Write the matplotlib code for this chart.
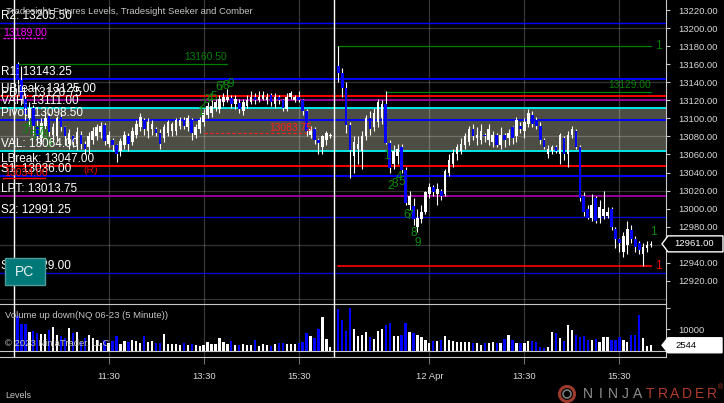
import matplotlib
matplotlib.use("Agg")
import matplotlib.pyplot as plt
import matplotlib.transforms as mtransforms
from matplotlib.patches import Rectangle, Polygon, Circle
import numpy as np

plt.rcParams["font.family"] = ["Liberation Sans", "DejaVu Sans"]

# ---------------- data: NQ 06-23, 5 minute bars, 9:35 .. 16:10 ----------------
day1_open = [13160, 13142, 13122, 13100, 13112, 13092, 13078, 13092, 13103, 13082,
             13080, 13102, 13090, 13072, 13080, 13072, 13082, 13072, 13068, 13076,
             13080, 13085, 13093, 13072, 13076, 13070, 13064, 13070, 13080, 13074,
             13082, 13090, 13098, 13086, 13088, 13088, 13084, 13078, 13084, 13086,
             13086, 13092, 13098, 13090, 13098, 13082, 13088, 13096, 13104, 13106,
             13112, 13110, 13118, 13120, 13123, 13116, 13117, 13108, 13114, 13118,
             13124, 13120, 13122, 13120, 13126, 13116, 13124, 13120, 13110, 13124,
             13120, 13124, 13120, 13108, 13082, 13088, 13076, 13068, 13076, 13080]
day1_close = [13142, 13122, 13105, 13112, 13092, 13080, 13095, 13100, 13085, 13090,
              13100, 13090, 13080, 13084, 13074, 13085, 13072, 13066, 13080, 13086,
              13090, 13092, 13075, 13082, 13070, 13060, 13075, 13082, 13072, 13086,
              13094, 13102, 13088, 13096, 13094, 13084, 13072, 13090, 13096, 13094,
              13098, 13098, 13092, 13100, 13084, 13090, 13098, 13106, 13114, 13114,
              13118, 13122, 13124, 13124, 13116, 13122, 13110, 13118, 13120, 13124,
              13120, 13124, 13126, 13124, 13118, 13124, 13120, 13112, 13124, 13128,
              13124, 13120, 13108, 13086, 13088, 13076, 13073, 13080, 13084, 13082]
day1_high = [13162, 13158, 13128, 13118, 13115, 13098, 13100, 13108, 13106, 13095,
             13103, 13106, 13092, 13088, 13082, 13090, 13086, 13075, 13085, 13090,
             13094, 13096, 13095, 13086, 13078, 13072, 13078, 13086, 13084, 13090,
             13098, 13106, 13100, 13100, 13098, 13090, 13088, 13094, 13098, 13096,
             13100, 13102, 13102, 13104, 13100, 13094, 13102, 13110, 13118, 13120,
             13122, 13126, 13128, 13132, 13126, 13126, 13122, 13122, 13126, 13130,
             13128, 13130, 13130, 13128, 13128, 13128, 13126, 13122, 13128, 13130,
             13126, 13130, 13122, 13110, 13092, 13090, 13078, 13082, 13086, 13084]
day1_low = [13138, 13115, 13098, 13092, 13082, 13072, 13072, 13088, 13080, 13074,
            13075, 13086, 13070, 13066, 13068, 13065, 13066, 13060, 13062, 13072,
            13076, 13078, 13070, 13068, 13064, 13052, 13058, 13066, 13064, 13070,
            13078, 13086, 13082, 13078, 13082, 13080, 13066, 13074, 13080, 13080,
            13082, 13088, 13088, 13086, 13076, 13078, 13084, 13092, 13100, 13102,
            13108, 13106, 13114, 13118, 13112, 13110, 13106, 13104, 13112, 13116,
            13116, 13118, 13120, 13116, 13114, 13112, 13116, 13108, 13108, 13122,
            13118, 13118, 13104, 13080, 13078, 13072, 13060, 13060, 13070, 13078]
day1_volume = [16200, 12500, 12500, 8900, 9300, 8100, 7600, 7600, 9700, 10900,
               7300, 6900, 5800, 10400, 8100, 8600, 4200, 5800, 7300, 5800,
               5000, 3700, 5000, 3400, 4700, 6900, 3100, 4700, 4200, 5000,
               4700, 3700, 6900, 4200, 4700, 3700, 3400, 7800, 3100, 3100,
               3100, 2600, 3700, 2600, 3100, 2600, 2300, 2600, 3900, 3100,
               3100, 5800, 3900, 3100, 4700, 2600, 2600, 3100, 2600, 2600,
               5000, 2300, 3100, 2600, 2300, 3100, 3400, 3400, 3100, 3100,
               3100, 3400, 3900, 8100, 7000, 5800, 10000, 15900, 5300, 1900]

day2_open = [13158, 13150, 13134, 13093, 13058, 13066, 13064, 13080, 13100, 13090,
             13096, 13100, 13116, 13073, 13050, 13058, 13068, 13043, 13004, 13003,
             12980, 12988, 12996, 13016, 13024, 13016, 13020, 13016, 13040, 13050,
             13060, 13064, 13070, 13074, 13088, 13078, 13076, 13082, 13076, 13074,
             13082, 13070, 13082, 13078, 13090, 13080, 13092, 13086, 13094, 13104,
             13098, 13092, 13076, 13060, 13064, 13068, 13060, 13078, 13060, 13082,
             13086, 13068, 13014, 13000, 12990, 13012, 12990, 12992, 12992, 13000,
             12978, 12966, 12952, 12960, 12976, 12966, 12962, 12950, 12956, 12960]
day2_close = [13150, 13134, 13093, 13065, 13074, 13072, 13080, 13100, 13088, 13106,
              13118, 13116, 13073, 13045, 13064, 13066, 13043, 13006, 13014, 12988,
              12990, 12996, 13018, 13024, 13018, 13022, 13014, 13042, 13054, 13062,
              13068, 13072, 13080, 13088, 13080, 13082, 13086, 13080, 13088, 13082,
              13070, 13082, 13076, 13084, 13078, 13098, 13088, 13096, 13106, 13094,
              13092, 13076, 13068, 13066, 13068, 13064, 13082, 13060, 13082, 13088,
              13068, 13012, 12996, 12990, 13004, 12986, 13002, 13000, 12996, 12980,
              12966, 12962, 12970, 12978, 12966, 12958, 12954, 12958, 12960, 12961]
day2_high = [13180, 13156, 13140, 13096, 13080, 13080, 13086, 13104, 13108, 13112,
             13122, 13120, 13130, 13076, 13070, 13072, 13072, 13046, 13020, 13012,
             13000, 13004, 13020, 13028, 13026, 13028, 13022, 13044, 13060, 13066,
             13072, 13078, 13084, 13092, 13094, 13090, 13094, 13084, 13094, 13086,
             13084, 13090, 13084, 13088, 13092, 13102, 13096, 13100, 13110, 13108,
             13102, 13096, 13078, 13070, 13070, 13070, 13084, 13080, 13086, 13092,
             13088, 13070, 13018, 13004, 13016, 13014, 13010, 13020, 13002, 13002,
             12980, 12968, 12974, 12986, 12982, 12970, 12964, 12962, 12964, 12964]
day2_low = [13140, 13124, 13084, 13034, 13040, 13050, 13044, 13076, 13082, 13086,
            13090, 13094, 13072, 13040, 13044, 13050, 13040, 13004, 12998, 12982,
            12974, 12984, 12994, 13012, 13014, 13004, 13010, 13014, 13036, 13046,
            13054, 13060, 13066, 13070, 13076, 13070, 13072, 13074, 13070, 13068,
            13068, 13066, 13068, 13070, 13072, 13074, 13084, 13078, 13090, 13090,
            13088, 13072, 13066, 13056, 13060, 13062, 13050, 13054, 13046, 13078,
            13066, 13008, 12992, 12988, 12986, 12984, 12984, 12988, 12990, 12976,
            12956, 12952, 12946, 12950, 12962, 12952, 12950, 12936, 12952, 12958]
day2_volume = [19500, 14300, 9000, 19800, 10000, 6800, 7500, 8900, 6500, 5500,
               9300, 10000, 12100, 12800, 6800, 6800, 7500, 12800, 8900, 8400,
               7300, 6500, 5000, 3700, 4700, 4700, 5000, 6800, 5000, 4700,
               4200, 4200, 4200, 4200, 3700, 3700, 2600, 3700, 3700, 4200,
               3400, 3400, 5300, 7300, 5000, 3400, 3400, 3400, 4700, 4700,
               4200, 1600, 1100, 1800, 8900, 8100, 6100, 4500, 12000, 9700,
               7500, 6500, 6800, 5000, 5000, 5300, 4200, 6500, 6500, 5000,
               5000, 6200, 5000, 4200, 7300, 7300, 16700, 5800, 2200, 2544]

# Tradesight Futures Levels
level_names = ["R2", "R1", "UBreak", "PDH", "VAH", "Pivot", "VAL", "LBreak", "S1", "LPT", "S2", "S3"]
level_values = [13205.50, 13143.25, 13125.00, 13120.75, 13111.00, 13098.50,
                13064.00, 13047.00, 13036.00, 13013.75, 12991.25, 12929.00]

# Seeker counts (text, bar index, price)
seeker_text = ["3", "4", "5", "6", "7", "8", "9",
               "1", "2", "3", "4", "5", "6", "7", "8", "9",
               "1", "2", "3", "4", "5", "6", "7", "8", "9", "1"]
seeker_bar = [1.9, 2.9, 3.9, 4.9, 5.9, 6.9, 8.0,
              46.3, 46.8, 47.9, 48.6, 49.6, 50.9, 51.6, 52.7, 53.9,
              93.2, 94.2, 95.3, 96.3, 97.1, 98.3, 99.1, 100.1, 101.1, 160.5]
seeker_price = [13087, 13093, 13080, 13085, 13085, 13082, 13072,
                13107, 13115, 13120, 13121, 13124, 13135, 13135, 13136, 13138,
                13058, 13025, 13027, 13035, 13030, 12993, 12992, 12973, 12962, 12974]

# target lines (price, first bar, last bar, label)
target_price = [13160.50, 13180.00, 13129.00, 12936.50, 13083.75]
target_start = [0, 81, 93, 81, 47]
target_end = [53, 160, 160, 160, 74]
target_label = ["13160.50", "1", "13129.00", "1", "13083.75"]

time_labels = ["11:30", "13:30", "15:30", "12 Apr", "13:30", "15:30"]

# ---------------- layout ----------------
W, H, DPI = 724, 403, 100
BAR0_PX, BAR_PX = 17.5, 3.96
PANEL_RIGHT = 666


def px_box(left, top, right, bottom):
    return [left / W, 1 - bottom / H, (right - left) / W, (bottom - top) / H]


def fig_text(px, py, s, **kw):
    return fig.text(px / W, 1 - py / H, s, **kw)


fig = plt.figure(figsize=(W / DPI, H / DPI), dpi=DPI, facecolor="black")
ax = fig.add_axes(px_box(0, 0, PANEL_RIGHT, 304))
axv = fig.add_axes(px_box(0, 304, PANEL_RIGHT, 357), sharex=ax)

xlim = ((0 - BAR0_PX) / BAR_PX, (PANEL_RIGHT - BAR0_PX) / BAR_PX)
ax.set_xlim(*xlim)
ax.set_ylim(12894.4, 13231.1)
axv.set_ylim(-2944, 21822)

for a in (ax, axv):
    a.set_facecolor("black")
    for s in a.spines.values():
        s.set_visible(False)
    a.spines["right"].set_visible(True)
    a.spines["right"].set_color("#c8c8c8")
    a.spines["right"].set_linewidth(0.8)
axv.spines["top"].set_visible(True)
axv.spines["top"].set_color("#c8c8c8")
axv.spines["bottom"].set_visible(True)
axv.spines["bottom"].set_color("#c8c8c8")

o = np.array(day1_open + day2_open, float)
c = np.array(day1_close + day2_close, float)
hi = np.array(day1_high + day2_high, float)
lo = np.array(day1_low + day2_low, float)
vol = np.array(day1_volume + day2_volume, float)
n1 = len(day1_open)
idx = np.concatenate([np.arange(n1), n1 + 1 + np.arange(len(day2_open))])

# bar times for the time axis
minutes = np.concatenate([9 * 60 + 35 + 5 * np.arange(n1), 9 * 60 + 35 + 5 * np.arange(len(day2_open))])
tick_idx = idx[np.isin(minutes, [11 * 60 + 30, 13 * 60 + 30, 15 * 60 + 30])]

# value area band and grid
ax.axhspan(level_values[6], level_values[4], color="#4e4d44", lw=0, zorder=1)
for p in np.arange(12900, 13201, 60):
    ax.axhline(p, color="white", alpha=0.2, lw=0.9, zorder=2)
for t in tick_idx:
    ax.axvline(t, color="white", alpha=0.22, lw=0.9, zorder=2)
    axv.axvline(t, color="white", alpha=0.22, lw=0.9, zorder=1)
for s in (idx[0] - 1, idx[n1] - 1):
    ax.axvline(s, color="white", lw=1.0, zorder=6)
    axv.axvline(s, color="white", lw=1.0, zorder=6)

# level lines
level_colors = {"R2": "#0000ff", "R1": "#0000ff", "UBreak": "#ff0000", "PDH": "#990099",
                "VAH": "#00e8e8", "Pivot": "#0000ff", "VAL": "#00e8e8", "LBreak": "#ff0000",
                "S1": "#0000ff", "LPT": "#990099", "S2": "#0000d0", "S3": "#0000d0"}
label_tr = mtransforms.offset_copy(
    mtransforms.blended_transform_factory(ax.transAxes, ax.transData), y=7, units="dots")
for name, val in zip(level_names, level_values):
    lw = 1.0 if name in ("S2", "S3", "R2") else 1.4
    ax.axhline(val, color=level_colors[name], lw=lw, zorder=3)
    ax.text(0.002, val, f"{name}: {val:.2f}", transform=label_tr, color="white",
            fontsize=8.5, va="center", ha="left", zorder=12)

# target lines from Seeker / Comber
for p, s, e, lab in zip(target_price, target_start, target_end, target_label):
    if lab == "13083.75":
        ax.plot([s, e], [p, p], color="#ff2020", lw=0.8, ls=(0, (3, 2)), zorder=3)
        ax.text(e + 0.3, p, lab, color="#ff2020", fontsize=7.4, ha="right", va="bottom", zorder=9,
                transform=mtransforms.offset_copy(ax.transData, y=0.5, units="dots"))
    elif lab == "1":
        col = "#ff0000" if p < 13000 else "#008000"
        ax.plot([s, e], [p, p], color=col, lw=1.2 if col == "#ff0000" else 0.9, zorder=3)
        ax.text(e + 0.9, p, lab, color=col, fontsize=8.5, ha="left", va="center", zorder=9)
    else:
        ax.plot([s, e], [p, p], color="#008000", lw=0.9, zorder=3)
        ax.text(e, p, lab, color="#008000", fontsize=7.4, ha="right", va="bottom", zorder=9,
                transform=mtransforms.offset_copy(ax.transData, y=2, units="dots"))

# price-only marks at the left
tr_left = mtransforms.blended_transform_factory(ax.transAxes, ax.transData)
ax.text(0.005, 13189.0, "13189.00", transform=mtransforms.offset_copy(tr_left, y=5, units="dots"),
        color="#ff00ff", fontsize=7.6, va="center", zorder=12)
ax.plot([0.004, 0.068], [13189.0, 13189.0], transform=tr_left, color="#ff00ff", lw=0.9, ls=(0, (2, 1)), zorder=12)
ax.text(0.007, 13034.0, "13034.00", transform=mtransforms.offset_copy(tr_left, y=5, units="dots"),
        color="#ff1010", fontsize=7.6, va="center", zorder=12)
ax.plot([0.004, 0.068], [13034.0, 13034.0], transform=tr_left, color="#ff1010", lw=1.0, zorder=12)
ax.text(0.125, 13036.0, "(R)", transform=mtransforms.offset_copy(tr_left, y=6, units="dots"),
        color="#e00000", fontsize=7.6, va="center", zorder=12)

# candles
up = c >= o
ax.vlines(idx, lo, hi, color="white", lw=0.8, zorder=4)
ax.bar(idx, np.maximum(np.abs(c - o), 0.9), bottom=np.minimum(o, c), width=0.66,
       color=np.where(up, "white", "#0000ff"), lw=0, zorder=5)

# seeker counts
for t, b, p in zip(seeker_text, seeker_bar, seeker_price):
    ax.text(b, p, t, color="#0a8a0a", fontsize=8.5, ha="center", va="center", zorder=7)

# volume
axv.bar(idx, vol, width=0.58, color=np.where(up, "white", "#0000ff"), lw=0, zorder=3)
axv.axhline(0, color="#c8c8c8", lw=0.8, zorder=4)

# axes ticks
ax.yaxis.tick_right()
ax.set_yticks(np.arange(12920, 13221, 20))
ax.set_yticklabels([f"{v:.2f}" for v in np.arange(12920, 13221, 20)])
ax.tick_params(axis="y", length=3, width=0.8, color="#c8c8c8", labelcolor="#d8d8d8", labelsize=6.8, pad=6)
ax.tick_params(axis="x", bottom=False, labelbottom=False)
axv.yaxis.tick_right()
axv.set_yticks([0, 10000, 20000])
axv.set_yticklabels(["", "10000", ""])
axv.tick_params(axis="y", length=3, width=0.8, color="#c8c8c8", labelcolor="#d8d8d8", labelsize=6.8, pad=6)
axv.set_xticks(tick_idx)
axv.set_xticklabels(time_labels)
axv.tick_params(axis="x", length=5, width=0.8, color="#707070", labelcolor="#d8d8d8", labelsize=6.8, pad=5.5)

# texts
fig_text(6, 11, "Tradesight Futures Levels, Tradesight Seeker and Comber", color="#c4c4c4",
         fontsize=6.8, va="center", zorder=15)
fig_text(5, 316, "Volume up down(NQ 06-23 (5 Minute))", color="#c4c4c4", fontsize=6.8, va="center", zorder=15)
fig_text(5, 344, "\u00a9 2023 NinjaTrader, LLC", color="#c4c4c4", fontsize=6.8, va="center", zorder=15)
fig_text(5, 395, "Levels", color="#c4c4c4", fontsize=6.5, va="center")

# PC button
ident = mtransforms.IdentityTransform()
fig.add_artist(Rectangle((5, H - 285), 40, 27, transform=ident, fc="#007878", ec="#4f9a9a", lw=1, zorder=20))
fig_text(25, 271.5, "PC", color="#e8f4f4", fontsize=10, ha="center", va="center", zorder=21)

# last price / last volume markers
yd = ax.transData.transform((0, c[-1]))[1]
fig.add_artist(Polygon([(662, yd), (668, yd + 8), (723, yd + 8), (723, yd - 8), (668, yd - 8)],
                       closed=True, transform=ident, fc="black", ec="white", lw=1, zorder=20))
fig.text(674, yd, f"{c[-1]:.2f}", transform=ident, color="white", fontsize=6.8, va="center", zorder=21)
yv = axv.transData.transform((0, vol[-1]))[1]
fig.add_artist(Polygon([(662, yv), (668, yv + 7.5), (722, yv + 7.5), (722, yv - 7.5), (668, yv - 7.5)],
                       closed=True, transform=ident, fc="white", ec="white", lw=1, zorder=20))
fig.text(675, yv, f"{int(vol[-1])}", transform=ident, color="black", fontsize=6.8, va="center", zorder=21)

# NinjaTrader logo
fig.add_artist(Circle((567, H - 394), 7.5, transform=ident, fill=False, ec="#9c3a2c", lw=2.2, zorder=20))
fig.add_artist(Circle((567, H - 394), 4, transform=ident, fill=False, ec="#7a7a7a", lw=1.2, zorder=20))
for k, ch in enumerate("NINJATRADER"):
    fig_text(588 + 12.4 * k, 394, ch, color="#8e8e8e" if k < 5 else "#b23b2b", fontsize=10,
             ha="center", va="center")
fig_text(721, 388, "\u00ae", color="#b23b2b", fontsize=5, ha="center", va="center")

fig.savefig("out.png", dpi=DPI, facecolor="black")
